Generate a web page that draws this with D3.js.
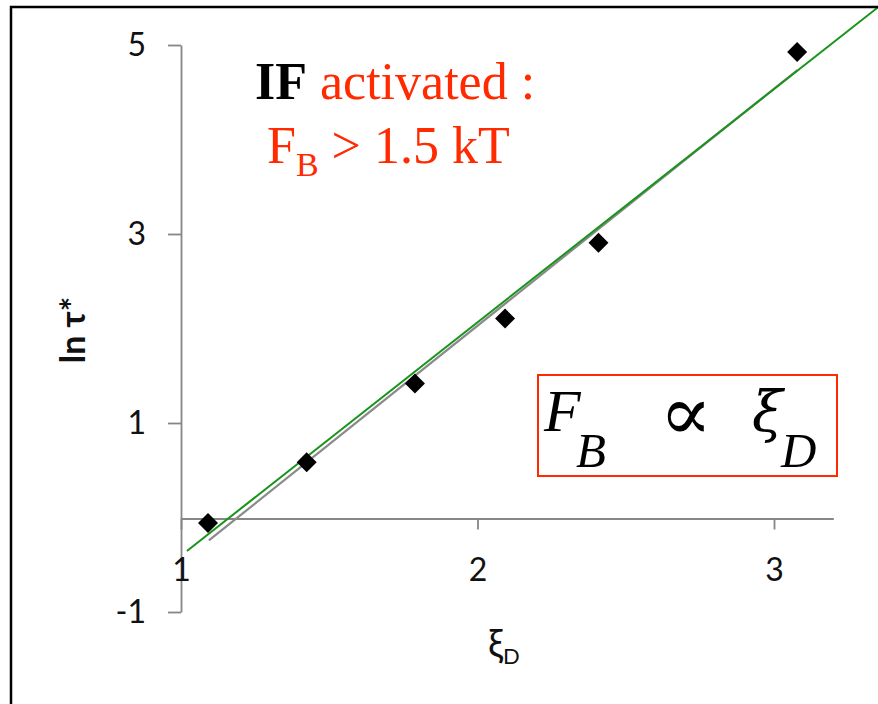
<!DOCTYPE html>
<html>
<head>
<meta charset="utf-8">
<script src="https://cdn.jsdelivr.net/npm/d3@7"></script>
<style>
  html, body { margin: 0; padding: 0; background: #fff; }
  svg { display: block; }
</style>
</head>
<body>
<svg id="chart" width="878" height="704"></svg>
<script>
// Measured relaxation: x = xi_D, y = ln tau*
const xiD = [1.091, 1.424, 1.789, 2.093, 2.408, 3.078];
const lnTau = [-0.058, 0.585, 1.418, 2.106, 2.907, 4.926];

// Straight-line fits (endpoints in data units)
const greenFitX = [1.020, 3.351];
const greenFitY = [-0.354, 5.40];
const grayFitX = [1.094, 3.079];
const grayFitY = [-0.243, 4.735];

const xTicks = [1, 2, 3];
const yTicks = [-1, 1, 3, 5];
const xDomain = [1, 3.2];
const yDomain = [-1, 5];

const svg = d3.select("#chart");

const x = d3.scaleLinear().domain(xDomain).range([181, 833.3]);
const y = d3.scaleLinear().domain(yDomain).range([612, 45]);

const axisColor = "#868686";
const tickFont = "Lato, 'Open Sans', sans-serif";
const plain = d => String(d);

// Y axis
const yAxis = svg.append("g")
  .attr("transform", `translate(${x(1)},0)`)
  .call(d3.axisLeft(y).tickValues(yTicks).tickSize(13).tickSizeOuter(0).tickPadding(22)
    .tickFormat(plain));
yAxis.select(".domain").attr("stroke", axisColor).attr("stroke-width", 1.8);
yAxis.selectAll(".tick line").attr("stroke", axisColor).attr("stroke-width", 1.8);
yAxis.selectAll(".tick text").attr("font-family", tickFont).attr("font-size", 32).attr("fill", "#111");

// X axis at y = 0
const xAxis = svg.append("g")
  .attr("transform", `translate(0,${y(0) + 1})`)
  .call(d3.axisBottom(x).tickValues(xTicks).tickSize(11).tickSizeOuter(0).tickPadding(29)
    .tickFormat(plain));
xAxis.select(".domain").attr("stroke", axisColor).attr("stroke-width", 1.8);
xAxis.selectAll(".tick line").attr("stroke", axisColor).attr("stroke-width", 1.8);
xAxis.selectAll(".tick text").attr("font-family", tickFont).attr("font-size", 32).attr("fill", "#111");

// Axis titles
svg.append("text")
  .attr("transform", "translate(85,330) rotate(-90)")
  .attr("text-anchor", "middle")
  .attr("font-family", tickFont)
  .attr("font-weight", "bold")
  .attr("font-size", 34)
  .attr("fill", "#111")
  .text("ln τ*");

const xt = svg.append("text")
  .attr("x", 488).attr("y", 657)
  .attr("font-family", tickFont)
  .attr("font-size", 38)
  .attr("fill", "#111");
xt.append("tspan").text("ξ");
xt.append("tspan").attr("font-size", 22).attr("dx", 0).attr("dy", 7).text("D");

// Fit lines
const line = d3.line().x(d => x(d[0])).y(d => y(d[1]));
svg.append("path")
  .datum(d3.zip(grayFitX, grayFitY))
  .attr("d", line)
  .attr("fill", "none")
  .attr("stroke", "#8a8a8a")
  .attr("stroke-width", 2.2);
svg.append("path")
  .datum(d3.zip(greenFitX, greenFitY))
  .attr("d", line)
  .attr("fill", "none")
  .attr("stroke", "#17941a")
  .attr("stroke-width", 2);

// Data points (diamonds)
svg.append("g")
  .selectAll("path")
  .data(d3.zip(xiD, lnTau))
  .join("path")
  .attr("d", d3.symbol(d3.symbolSquare, 200))
  .attr("transform", d => `translate(${x(d[0])},${y(d[1])}) rotate(45)`)
  .attr("fill", "#000");

// Annotation: IF activated
const serif = "'Liberation Serif', 'Times New Roman', serif";
const red = "#ff2a00";
const t1 = svg.append("text")
  .attr("x", 255).attr("y", 99)
  .attr("font-family", serif).attr("font-size", 52);
t1.append("tspan").attr("font-weight", "bold").attr("fill", "#000").text("IF");
t1.append("tspan").attr("fill", red).text(" activated :");

const t2 = svg.append("text")
  .attr("x", 267).attr("y", 163)
  .attr("font-family", serif).attr("font-size", 52).attr("fill", red);
t2.append("tspan").text("F");
t2.append("tspan").attr("font-size", 34).attr("dy", 13).text("B");
t2.append("tspan").attr("dy", -13).text(" > 1.5 kT");

// Proportionality box
svg.append("rect")
  .attr("x", 538).attr("y", 375).attr("width", 299).attr("height", 101)
  .attr("fill", "#fff").attr("stroke", red).attr("stroke-width", 2);

svg.append("text").attr("x", 544).attr("y", 431)
  .attr("font-family", serif).attr("font-style", "italic").attr("font-size", 60).text("F");
svg.append("text").attr("x", 576).attr("y", 467)
  .attr("font-family", serif).attr("font-style", "italic").attr("font-size", 49).text("B");
svg.append("text").attr("x", 686).attr("y", 440).attr("text-anchor", "middle")
  .attr("font-family", "'DejaVu Serif', serif").attr("font-size", 78).text("∝");
svg.append("text").attr("x", 752).attr("y", 431)
  .attr("font-family", "'DejaVu Serif', serif").attr("font-style", "italic").attr("font-size", 56).text("ξ");
svg.append("text").attr("x", 781).attr("y", 467)
  .attr("font-family", serif).attr("font-style", "italic").attr("font-size", 49).text("D");

// Outer frame
svg.append("rect")
  .attr("x", 11).attr("y", 7).attr("width", 900).attr("height", 720)
  .attr("fill", "none").attr("stroke", "#000").attr("stroke-width", 2.5);
</script>
</body>
</html>
